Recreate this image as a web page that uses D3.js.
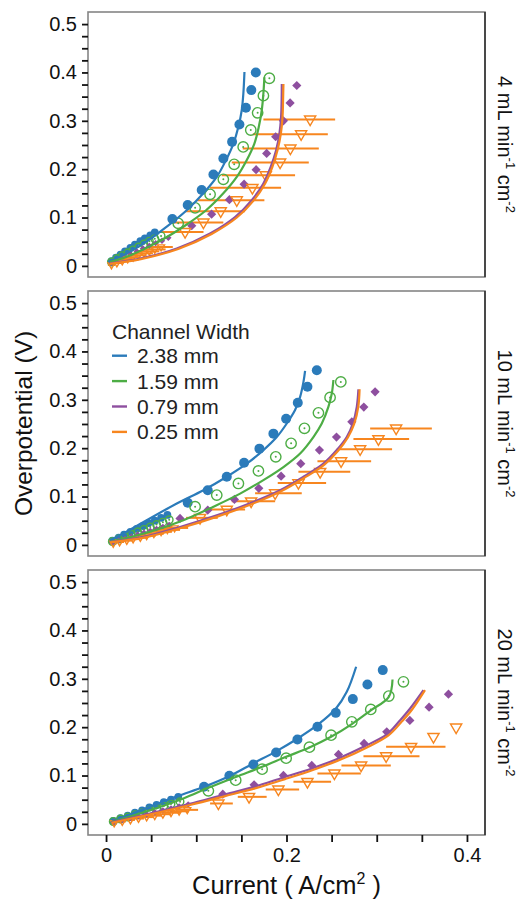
<!DOCTYPE html>
<html>
<head>
<meta charset="utf-8">
<script src="https://cdn.jsdelivr.net/npm/d3@7"></script>
<style>
  body { margin: 0; background: #fff; }
  svg { display: block; font-family: "Liberation Sans", Arial, sans-serif; }
</style>
</head>
<body>
<svg id="chart"></svg>
<script>
// facet labels (flow rate) and legend entries (channel width)
const flowRates = ["4", "10", "20"];
const channelWidths = ["2.38 mm", "1.59 mm", "0.79 mm", "0.25 mm"];
const yLabelTicks = [0, 0.1, 0.2, 0.3, 0.4, 0.5];
const xLabelTicks = [0, 0.2, 0.4];

// model fits, one list per flow rate: [current, overpotential]
const fit238 = [
  [[0.0026,0.008],[0.0155,0.019],[0.0414,0.046],[0.0673,0.081],[0.0894,0.115],[0.1079,0.150],[0.1227,0.184],[0.133,0.219],[0.1412,0.253],[0.1467,0.2875],[0.1504,0.322],[0.1522,0.357],[0.1534,0.401]],
  [[0.0044,0.0097],[0.0192,0.0236],[0.0451,0.051],[0.0784,0.0856],[0.1079,0.113],[0.1338,0.141],[0.156,0.168],[0.1744,0.196],[0.1892,0.223],[0.2003,0.251],[0.2095,0.279],[0.2151,0.306],[0.2188,0.337],[0.2206,0.360]],
  [[0.0063,0.004],[0.040,0.029],[0.079,0.057],[0.1086,0.0766],[0.137,0.099],[0.163,0.125],[0.1885,0.150],[0.212,0.176],[0.234,0.204],[0.2546,0.238],[0.2668,0.273],[0.2772,0.325]]
];
const fit159 = [
  [[0.0044,0.008],[0.0229,0.019],[0.0543,0.046],[0.0857,0.081],[0.1109,0.115],[0.130,0.150],[0.1449,0.184],[0.156,0.219],[0.1644,0.253],[0.1693,0.2875],[0.1726,0.322],[0.1744,0.357],[0.1755,0.390]],
  [[0.0044,0.006],[0.0488,0.027],[0.0857,0.051],[0.119,0.079],[0.1486,0.106],[0.1744,0.134],[0.1966,0.161],[0.2151,0.189],[0.2298,0.223],[0.2391,0.251],[0.2465,0.286],[0.2502,0.313],[0.252,0.341]],
  [[0.0063,0.004],[0.0488,0.0283],[0.0857,0.0525],[0.1134,0.0745],[0.1437,0.097],[0.173,0.118],[0.1996,0.1386],[0.2254,0.158],[0.2494,0.18],[0.2724,0.2063],[0.2934,0.2346],[0.3134,0.2628],[0.3175,0.2987]]
];
const fit079 = [
  [[0.0044,0.005],[0.0377,0.015],[0.0784,0.036],[0.1153,0.067],[0.143,0.101],[0.1615,0.136],[0.1744,0.1705],[0.1826,0.205],[0.1885,0.239],[0.1922,0.274],[0.194,0.308],[0.1946,0.343],[0.1948,0.376]],
  [[0.0044,0.006],[0.0414,0.0165],[0.082,0.037],[0.1227,0.061],[0.1596,0.086],[0.1929,0.113],[0.2188,0.141],[0.2409,0.168],[0.2557,0.196],[0.2668,0.223],[0.2735,0.251],[0.2779,0.2855],[0.2797,0.3215]],
  [[0.0063,0.003],[0.0488,0.0215],[0.0917,0.0408],[0.1294,0.0594],[0.1641,0.0765],[0.1966,0.096],[0.228,0.1146],[0.2576,0.1353],[0.2853,0.1593],[0.3111,0.185],[0.326,0.2145],[0.337,0.2387],[0.3518,0.2766]]
];
const fit025 = [
  [[0.0044,0.004],[0.0385,0.014],[0.080,0.035],[0.117,0.066],[0.145,0.100],[0.1635,0.135],[0.1762,0.170],[0.1844,0.205],[0.190,0.239],[0.1938,0.274],[0.1956,0.308],[0.1962,0.343],[0.1966,0.376]],
  [[0.0044,0.005],[0.042,0.015],[0.083,0.035],[0.124,0.059],[0.161,0.084],[0.194,0.111],[0.220,0.139],[0.242,0.166],[0.257,0.194],[0.268,0.222],[0.275,0.250],[0.2795,0.285],[0.281,0.322]],
  [[0.0063,0.002],[0.0495,0.020],[0.093,0.039],[0.131,0.057],[0.166,0.074],[0.199,0.093],[0.230,0.112],[0.260,0.133],[0.288,0.157],[0.313,0.183],[0.328,0.212],[0.339,0.236],[0.3535,0.2766]]
];

// measured points, coarse steps: [current, overpotential]
const obs238 = [
  [[0.0735,0.097],[0.0905,0.126],[0.106,0.157],[0.119,0.189],[0.130,0.222],[0.1397,0.2565],[0.1478,0.2925],[0.155,0.327],[0.161,0.3635],[0.166,0.400]],
  [[0.0905,0.087],[0.1127,0.113],[0.1338,0.141],[0.153,0.170],[0.170,0.199],[0.1855,0.230],[0.1996,0.261],[0.2125,0.294],[0.2232,0.327],[0.2336,0.361]],
  [[0.1086,0.0766],[0.1367,0.0993],[0.1633,0.1228],[0.1885,0.1477],[0.2121,0.1745],[0.2343,0.2007],[0.2546,0.2296],[0.2735,0.258],[0.2897,0.2884],[0.3067,0.318]]
];
const obs159 = [
  [[0.080,0.088],[0.0987,0.120],[0.1153,0.148],[0.130,0.179],[0.142,0.210],[0.152,0.246],[0.1604,0.281],[0.168,0.3165],[0.1744,0.352],[0.181,0.388]],
  [[0.0987,0.079],[0.1227,0.103],[0.1467,0.127],[0.1689,0.153],[0.1881,0.182],[0.2051,0.210],[0.2199,0.241],[0.2354,0.273],[0.2483,0.305],[0.2602,0.337]],
  [[0.1134,0.0683],[0.1437,0.0904],[0.173,0.1132],[0.1996,0.1359],[0.2254,0.1587],[0.2494,0.1835],[0.2724,0.211],[0.2934,0.2367],[0.3134,0.2642],[0.3296,0.2938]]
];
const obs079 = [
  [[0.095,0.083],[0.117,0.107],[0.1367,0.137],[0.153,0.169],[0.1663,0.199],[0.178,0.2325],[0.188,0.267],[0.1966,0.300],[0.204,0.337],[0.2114,0.373]],
  [[0.082,0.0546],[0.1127,0.0718],[0.1423,0.094],[0.1693,0.117],[0.194,0.142],[0.2158,0.168],[0.2365,0.196],[0.2554,0.223],[0.2724,0.2545],[0.2857,0.285],[0.2982,0.3165]],
  [[0.1294,0.0614],[0.1641,0.0807],[0.1966,0.1001],[0.228,0.1208],[0.2576,0.1436],[0.286,0.1663],[0.3111,0.1903],[0.3367,0.2139],[0.358,0.2414],[0.3795,0.2683]]
];
// 0.25 mm: [current, overpotential, current min, current max]
const obs025 = [
  [[0.0876,0.0703,0.060,0.108],[0.1079,0.0898,0.0728,0.130],[0.1271,0.1132,0.0876,0.154],[0.1449,0.1359,0.1012,0.1755],[0.1622,0.1614,0.1153,0.194],[0.177,0.1876,0.1282,0.2095],[0.1929,0.2139,0.1393,0.2247],[0.2043,0.2429,0.1515,0.2358],[0.2162,0.2724,0.1626,0.2458],[0.2262,0.3029,0.1744,0.2539]],
  [[0.1042,0.0559,0.0887,0.1238],[0.1338,0.073,0.1134,0.1541],[0.1608,0.090,0.1393,0.1874],[0.1874,0.107,0.1652,0.2169],[0.2132,0.128,0.1903,0.2439],[0.2373,0.151,0.2132,0.2707],[0.2605,0.173,0.2343,0.2938],[0.2816,0.198,0.2557,0.317],[0.3019,0.2187,0.2742,0.3359],[0.3215,0.2408,0.2927,0.3611]],
  [[0.1245,0.0422,0.1153,0.1405],[0.1585,0.0559,0.146,0.178],[0.191,0.0712,0.177,0.214],[0.2232,0.0869,0.2077,0.2494],[0.2531,0.1043,0.2343,0.2824],[0.2827,0.1208,0.2609,0.3156],[0.3104,0.140,0.2853,0.3474],[0.3381,0.1593,0.3104,0.3762],[0.3629,0.180,0.3629,0.3629],[0.388,0.1994,0.388,0.388]]
];

// measured points, fine steps at low current
const fine238 = [
  [[0.006,0.010],[0.011,0.017],[0.016,0.023],[0.021,0.030],[0.027,0.037],[0.032,0.044],[0.038,0.051],[0.043,0.057],[0.049,0.063],[0.054,0.069]],
  [[0.007,0.009],[0.014,0.015],[0.020,0.021],[0.027,0.027],[0.034,0.033],[0.041,0.039],[0.047,0.045],[0.054,0.050],[0.061,0.056],[0.068,0.062]],
  [[0.008,0.006],[0.016,0.012],[0.024,0.017],[0.032,0.023],[0.040,0.028],[0.048,0.034],[0.056,0.039],[0.064,0.045],[0.072,0.050],[0.080,0.056]]
];
const fine159 = [
  [[0.006,0.008],[0.012,0.015],[0.018,0.021],[0.024,0.027],[0.030,0.033],[0.036,0.039],[0.042,0.045],[0.048,0.051],[0.054,0.056],[0.061,0.062]],
  [[0.007,0.007],[0.014,0.012],[0.021,0.017],[0.028,0.022],[0.035,0.027],[0.042,0.032],[0.049,0.037],[0.056,0.042],[0.063,0.047],[0.070,0.052]],
  [[0.008,0.005],[0.016,0.010],[0.024,0.014],[0.032,0.019],[0.040,0.023],[0.048,0.028],[0.056,0.032],[0.064,0.037],[0.072,0.041],[0.082,0.046]]
];
const fine079 = [
  [[0.006,0.006],[0.013,0.012],[0.020,0.018],[0.027,0.024],[0.034,0.030],[0.041,0.036],[0.048,0.041],[0.055,0.047],[0.062,0.052],[0.069,0.058]],
  [[0.007,0.005],[0.014,0.009],[0.021,0.013],[0.028,0.017],[0.035,0.021],[0.042,0.025],[0.049,0.029],[0.056,0.033],[0.063,0.037],[0.070,0.041]],
  [[0.009,0.004],[0.018,0.008],[0.027,0.012],[0.036,0.016],[0.045,0.020],[0.054,0.024],[0.063,0.028],[0.072,0.032],[0.081,0.036],[0.091,0.040]]
];
const fine025 = [
  [[0.006,0.002,0.002,0.010],[0.012,0.006,0.007,0.017],[0.018,0.010,0.012,0.024],[0.024,0.014,0.017,0.031],[0.030,0.018,0.022,0.038],[0.036,0.022,0.027,0.045],[0.042,0.026,0.032,0.052],[0.048,0.030,0.037,0.059],[0.054,0.034,0.042,0.066],[0.061,0.039,0.047,0.074]],
  [[0.008,0.003,0.004,0.012],[0.015,0.006,0.010,0.020],[0.023,0.009,0.016,0.029],[0.030,0.012,0.022,0.037],[0.038,0.015,0.028,0.046],[0.045,0.019,0.034,0.055],[0.053,0.023,0.040,0.064],[0.061,0.027,0.046,0.073],[0.068,0.031,0.052,0.082],[0.076,0.035,0.058,0.091]],
  [[0.009,0.002,0.006,0.012],[0.018,0.005,0.014,0.022],[0.027,0.008,0.022,0.032],[0.036,0.011,0.030,0.042],[0.045,0.014,0.038,0.052],[0.054,0.017,0.046,0.062],[0.063,0.020,0.054,0.072],[0.072,0.023,0.062,0.082],[0.081,0.026,0.070,0.092],[0.090,0.029,0.078,0.102]]
];

const colors = ["#2b7bba", "#4dad45", "#8e4f9f", "#f7861f"];

class FacetChart {
  constructor() {
    this.config = {
      width: 517, height: 902,
      left: 88, panelW: 397, panelH: 265,
      tops: [12, 291, 570]
    };
    this.initVis();
  }

  initVis() {
    let vis = this;
    vis.svg = d3.select('#chart')
      .attr('width', vis.config.width)
      .attr('height', vis.config.height);

    vis.x = d3.scaleLinear().domain([-0.02, 0.42]).range([0, vis.config.panelW]);
    vis.y = d3.scaleLinear().domain([-0.023, 0.525]).range([vis.config.panelH, 0]);

    vis.line = d3.line()
      .x(d => vis.x(d[0]))
      .y(d => vis.y(d[1]))
      .curve(d3.curveCatmullRom.alpha(0.5));

    flowRates.forEach((fr, i) => vis.renderPanel(fr, i));
    vis.renderTitles();
  }

  renderPanel(fr, i) {
    let vis = this;
    const W = vis.config.panelW, H = vis.config.panelH;
    const top = vis.config.tops[i];
    const g = vis.svg.append('g')
      .attr('transform', `translate(${vis.config.left},${top})`);

    g.append('rect')
      .attr('width', W).attr('height', H)
      .attr('fill', 'none').attr('stroke', '#858585').attr('stroke-width', 1.6);
    g.append('line')
      .attr('x1', W).attr('x2', W).attr('y1', 0).attr('y2', H)
      .attr('stroke', '#111').attr('stroke-width', 1.2);

    // y axis with minor ticks every 0.025
    const yAxis = d3.axisLeft(vis.y)
      .tickValues(d3.range(0, 0.5001, 0.025))
      .tickSize(6).tickPadding(5)
      .tickFormat(d => yLabelTicks.some(v => Math.abs(v - d) < 1e-6) ? (d === 0 ? '0' : d3.format('.1f')(d)) : '');
    const yAxisG = g.append('g').call(yAxis);
    vis.styleAxis(yAxisG);

    if (i === 2) {
      const xAxis = d3.axisBottom(vis.x)
        .tickValues(d3.range(0, 0.4001, 0.05))
        .tickSize(7).tickPadding(6)
        .tickFormat(d => xLabelTicks.some(v => Math.abs(v - d) < 1e-6) ? (d === 0 ? '0' : d3.format('.1f')(d)) : '');
      const xAxisG = g.append('g')
        .attr('transform', `translate(0,${H})`)
        .call(xAxis);
      vis.styleAxis(xAxisG);
    }

    const fits = [fit238, fit159, fit079, fit025];

    // error bars (0.25 mm)
    g.selectAll('.ebar')
      .data(obs025[i].concat(fine025[i]))
      .join('line')
      .attr('class', 'ebar')
      .attr('x1', d => vis.x(d[2])).attr('x2', d => vis.x(d[3]))
      .attr('y1', d => vis.y(d[1])).attr('y2', d => vis.y(d[1]))
      .attr('stroke', colors[3]).attr('stroke-width', 2);

    // 2.38 mm: filled circles
    g.selectAll('.p238')
      .data(fine238[i].map(d => [d, 3.9]).concat(obs238[i].map(d => [d, 5])))
      .join('circle')
      .attr('cx', d => vis.x(d[0][0])).attr('cy', d => vis.y(d[0][1]))
      .attr('r', d => d[1]).attr('fill', colors[0]);

    // 1.59 mm: open circle with dot
    const p159 = g.selectAll('.p159')
      .data(fine159[i].map(d => [d, 3.8]).concat(obs159[i].map(d => [d, 5.2])))
      .join('g')
      .attr('transform', d => `translate(${vis.x(d[0][0])},${vis.y(d[0][1])})`);
    p159.append('circle').attr('r', d => d[1])
      .attr('fill', 'none').attr('stroke', colors[1]).attr('stroke-width', 1.4);
    p159.append('circle').attr('r', 1).attr('fill', colors[1]);

    // 0.79 mm: diamonds
    g.selectAll('.p079')
      .data(fine079[i].map(d => [d, 3.2]).concat(obs079[i].map(d => [d, 4.6])))
      .join('path')
      .attr('d', d => `M0,${-d[1]}L${d[1]},0L0,${d[1]}L${-d[1]},0Z`)
      .attr('transform', d => `translate(${vis.x(d[0][0])},${vis.y(d[0][1])})`)
      .attr('fill', colors[2]);

    // 0.25 mm: open down-triangles
    g.selectAll('.p025')
      .data(fine025[i].map(d => [d, 0.62]).concat(obs025[i].map(d => [d, 1])))
      .join('path')
      .attr('d', d => {
        const s = d[1];
        return `M${-5.6 * s},${-3.4 * s}L${5.6 * s},${-3.4 * s}L0,${6.2 * s}Z`;
      })
      .attr('transform', d => `translate(${vis.x(d[0][0])},${vis.y(d[0][1])})`)
      .attr('fill', 'none').attr('stroke', colors[3]).attr('stroke-width', 1.4);

    // fitted curves
    fits.forEach((f, k) => {
      g.append('path')
        .attr('d', vis.line(f[i]))
        .attr('fill', 'none')
        .attr('stroke', colors[k])
        .attr('stroke-width', 2.2);
    });

    // strip label on the right
    const strip = vis.svg.append('text')
      .attr('transform', `translate(505,${top + H / 2}) rotate(90)`)
      .attr('text-anchor', 'middle')
      .attr('dy', '0.35em')
      .attr('font-size', 20)
      .attr('fill', '#111');
    strip.append('tspan').text(`${fr} mL min`);
    strip.append('tspan').attr('dy', -8).attr('font-size', 13).text('-1');
    strip.append('tspan').attr('dy', 8).text(' cm');
    strip.append('tspan').attr('dy', -8).attr('font-size', 13).text('-2');

    if (i === 1) vis.renderLegend(g);
  }

  styleAxis(axisG) {
    axisG.select('.domain').remove();
    axisG.attr('font-family', null).attr('font-size', 20).attr('color', '#111');
    axisG.selectAll('.tick line').attr('stroke-width', 1.8);
  }

  renderLegend(g) {
    const lg = g.append('g').attr('transform', 'translate(24,0)');
    lg.append('text')
      .attr('x', 0).attr('y', 48)
      .attr('font-size', 21).attr('fill', '#222')
      .text('Channel Width');
    const items = lg.selectAll('.item')
      .data(channelWidths)
      .join('g')
      .attr('transform', (d, k) => `translate(0,${64.7 + k * 25.4})`);
    items.append('line')
      .attr('x1', 0).attr('x2', 15)
      .attr('stroke', (d, k) => colors[k]).attr('stroke-width', 2.4);
    items.append('text')
      .attr('x', 25).attr('dy', '0.36em')
      .attr('font-size', 21).attr('fill', '#222')
      .text(d => d);
  }

  renderTitles() {
    let vis = this;
    const cx = vis.config.left + vis.config.panelW / 2;
    const xt = vis.svg.append('text')
      .attr('x', cx).attr('y', 894)
      .attr('text-anchor', 'middle')
      .attr('font-size', 25.5).attr('fill', '#111');
    xt.append('tspan').text('Current ( A/cm');
    xt.append('tspan').attr('dy', -10).attr('font-size', 16).text('2');
    xt.append('tspan').attr('dy', 10).text(' )');

    vis.svg.append('text')
      .attr('transform', `translate(23,${(vis.config.tops[0] + vis.config.tops[2] + vis.config.panelH) / 2}) rotate(-90)`)
      .attr('text-anchor', 'middle')
      .attr('dy', '0.35em')
      .attr('font-size', 24.5).attr('fill', '#111')
      .text('Overpotential (V)');
  }
}

new FacetChart();
</script>
</body>
</html>
